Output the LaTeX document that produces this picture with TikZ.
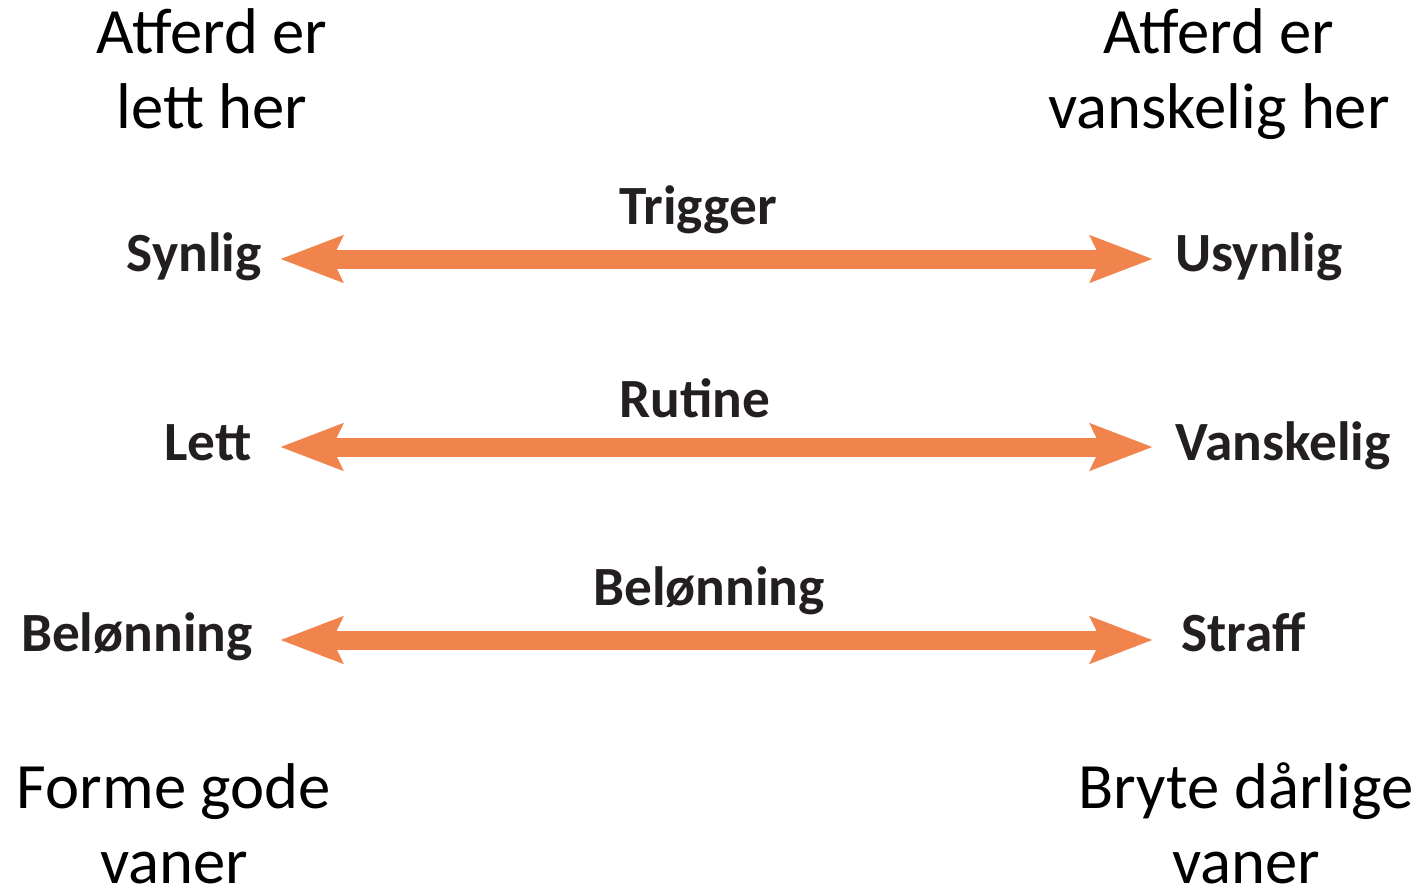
\documentclass[tikz,border=0pt]{standalone}
\usepackage{fontspec}
\setmainfont{Carlito}
\usetikzlibrary{arrows.meta}

\definecolor{arrorange}{RGB}{240,132,76}
\definecolor{labeldark}{RGB}{35,31,32}

\tikzset{every picture/.style={line width=0.75pt}}
\tikzset{
  biarrow/.style={draw=arrorange, line width=14.25pt,
    {Stealth[length=46.5pt,width=34pt,inset=7.5pt]}-{Stealth[length=46.5pt,width=34pt,inset=7.5pt]}},
  bigtext/.style={inner sep=0pt, align=center, font=\fontsize{48.5}{56}\selectfont},
  endlabel/.style={inner sep=0pt, text=labeldark, font=\fontsize{41.5}{48}\selectfont\bfseries},
}

\begin{document}
\begin{tikzpicture}[x=0.75pt,y=0.75pt,yscale=-1,xscale=1]
\path[use as bounding box] (0,0) rectangle (1419,888);

% Text Node
\node (easy) [bigtext, anchor=base] at (212,128) {Atferd er\\lett her};
% Text Node
\node (hard) [bigtext, anchor=base] at (1219,128) {Atferd er\\vanskelig her};

%Arrow ends
\coordinate (trigl) at (280,259);
\coordinate (trigr) at (1153,259);
\coordinate (rutl) at (280,447);
\coordinate (rutr) at (1153,447);
\coordinate (bell) at (280,640);
\coordinate (belr) at (1153,640);

%Double arrows
\draw [biarrow] (trigl) -- (trigr);
\draw [biarrow] (rutl) -- (rutr);
\draw [biarrow] (bell) -- (belr);

% Text Node
\node (trigger) [endlabel, anchor=base] at (698,224) {Trigger};
\node (synlig) [endlabel, anchor=base east] at (262,271) {Synlig};
\node (usynlig) [endlabel, anchor=base west] at (1175,271) {Usynlig};

% Text Node
\node (rutine) [endlabel, anchor=base] at (695,417) {Rutine};
\node (lett) [endlabel, anchor=base east] at (252,460) {Lett};
\node (vanskelig) [endlabel, anchor=base west] at (1175,460) {Vanskelig};

% Text Node
\node (belonning) [endlabel, anchor=base] at (709,605) {Belønning};
\node (belonningl) [endlabel, anchor=base east] at (253,651) {Belønning};
\node (straff) [endlabel, anchor=base west] at (1181,651) {Straff};

% Text Node
\node (gode) [bigtext, anchor=base] at (174,883) {Forme gode\\vaner};
% Text Node
\node (darlige) [bigtext, anchor=base] at (1246,883) {Bryte dårlige\\vaner};

\end{tikzpicture}
\end{document}
